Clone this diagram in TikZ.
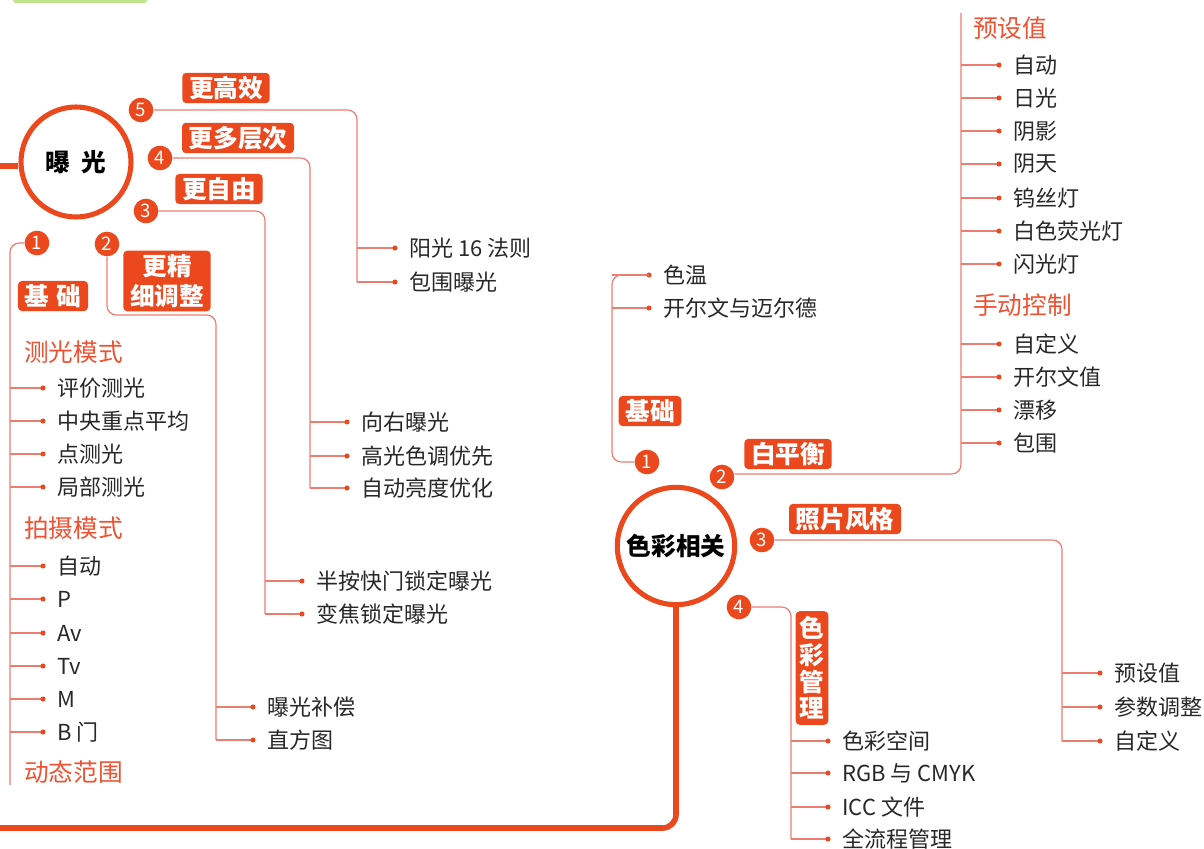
\documentclass[tikz,border=0pt]{standalone}
\usepackage{fontspec}
\setmainfont{Noto Sans CJK SC}
\definecolor{mainred}{RGB}{236,72,30}
\definecolor{connc}{RGB}{236,125,115}
\definecolor{itemc}{RGB}{40,40,40}
\definecolor{subc}{RGB}{238,82,50}
\definecolor{topgreen}{RGB}{190,228,140}
\tikzset{
  hub/.style={circle, draw=mainred, line width=3.8pt, fill=white, inner sep=0pt, text=black,
    font=\fontsize{18.5}{20}\selectfont\bfseries},
  badge/.style={circle, fill=mainred, minimum size=18.5pt, inner sep=0pt, text=white,
    font=\fontsize{14}{14}\selectfont},
  tag/.style={rounded corners=3pt, fill=mainred, text=white, align=center,
    font=\fontsize{18.5}{23}\selectfont\bfseries, inner xsep=5pt, inner ysep=2.5pt},
  leaftext/.style={anchor=west, inner sep=0pt, text=itemc, font=\fontsize{16.5}{18}\selectfont},
  subhead/.style={anchor=west, inner sep=0pt, text=subc, font=\fontsize{18.5}{20}\selectfont},
  conn/.style={draw=connc, line width=0.9pt, rounded corners=7pt},
  trunkline/.style={draw=mainred, line width=4.2pt, rounded corners=10pt}
}
% name, trunk x, dot x, y, text
\newcommand\leafitem[5]{%
  \coordinate (#1t) at (#2,#4);
  \coordinate (#1d) at (#3,#4);
  \node[leaftext] (#1) at (#3+14,#4) {#5};
  \draw[conn] (#1t) -- (#1d);
  \fill[mainred] (#1d) circle (1.9pt);}
\begin{document}
\begin{tikzpicture}[x=0.75pt,y=-0.75pt]
\fill[white] (0,0) rectangle (1204,849);
\useasboundingbox (0,0) rectangle (1204,849);
\fill[topgreen, rounded corners=2pt] (13,-4) rectangle (147,3);

% ---------- hubs ----------
\node[hub, minimum size=82.5pt] (ex) at (76,162) {曝\hspace{0.45em}光};
\node[hub, minimum size=88pt] (col) at (676,546) {色彩相关};
\coordinate (inL) at (-5,166);
\draw[trunkline] (inL) -- (inL -| ex.west);
\coordinate (bL) at (-5,828);
\coordinate (bR) at (676,828);
\draw[trunkline] (bL) -- (bR) -- (col.south);

% ---------- exposure badges & tags ----------
\node[badge] (e5) at (141,110) {5};
\node[badge] (e4) at (160,158) {4};
\node[badge] (e3) at (146,211) {3};
\node[badge] (e1) at (37,243) {1};
\node[badge] (e2) at (107,244) {2};
\node[tag] (g5) at (226,88) {更高效};
\node[tag] (g4) at (238,138) {更多层次};
\node[tag] (g3) at (219,189) {更自由};
\node[tag] (g1) at (53,296) {基\hspace{0.3em}础};
\node[tag] (g2) at (167,281) {更精\\细调整};

% branch 5
\leafitem{p51}{357}{395}{248}{阳光 16 法则}
\leafitem{p52}{357}{395}{282}{包围曝光}
\draw[conn] (e5.east) -- (e5.east -| p52t) -- (p52t);
% branch 4
\leafitem{p41}{310}{347}{422}{向右曝光}
\leafitem{p42}{310}{347}{456}{高光色调优先}
\leafitem{p43}{310}{347}{488}{自动亮度优化}
\draw[conn] (e4.east) -- (e4.east -| p43t) -- (p43t);
% branch 3
\leafitem{p31}{265}{302}{581}{半按快门锁定曝光}
\leafitem{p32}{265}{302}{614}{变焦锁定曝光}
\draw[conn] (e3.east) -- (e3.east -| p32t) -- (p32t);
% branch 2
\leafitem{p21}{216}{253}{707}{曝光补偿}
\leafitem{p22}{216}{253}{740}{直方图}
\coordinate (e2k) at (107,315);
\draw[conn] (e2.south) -- (e2k) -- (e2k -| p22t) -- (p22t);
% branch 1
\node[subhead] (s11) at (24,352) {测光模式};
\leafitem{p11}{10}{43}{388}{评价测光}
\leafitem{p12}{10}{43}{421}{中央重点平均}
\leafitem{p13}{10}{43}{454}{点测光}
\leafitem{p14}{10}{43}{487}{局部测光}
\node[subhead] (s12) at (24,528) {拍摄模式};
\leafitem{p15}{10}{43}{566}{自动}
\leafitem{p16}{10}{43}{599}{P}
\leafitem{p17}{10}{43}{633}{Av}
\leafitem{p18}{10}{43}{666}{Tv}
\leafitem{p19}{10}{43}{699}{M}
\leafitem{p1a}{10}{43}{732}{B 门}
\node[subhead] (s13) at (24,772) {动态范围};
\coordinate (e1end) at (10,785);
\draw[conn] (e1.west) -- (e1.west -| e1end) -- (e1end);

% ---------- colour badges & tags ----------
\node[badge] (c1) at (647,462) {1};
\node[badge] (c2) at (722,477) {2};
\node[badge] (c3) at (762,540) {3};
\node[badge] (c4) at (739,607) {4};
\node[tag] (h1) at (650,411) {基础};
\node[tag] (h2) at (788,454) {白平衡};
\node[tag] (h3) at (845,519) {照片风格};
\node[tag, font=\fontsize{18.5}{20}\selectfont\bfseries, inner xsep=3pt, inner ysep=4pt] (h4) at (812,668) {色\\彩\\管\\理};

% colour branch 1
\leafitem{k11}{612}{649}{275}{色温}
\leafitem{k12}{612}{649}{308}{开尔文与迈尔德}
\draw[conn] (c1.west) -- (c1.west -| k11t) -- (k11t) -- (k11d);
% colour branch 2
\node[subhead] (s21) at (973,28) {预设值};
\leafitem{k21}{961}{999}{65}{自动}
\leafitem{k22}{961}{999}{98}{日光}
\leafitem{k23}{961}{999}{131}{阴影}
\leafitem{k24}{961}{999}{164}{阴天}
\leafitem{k25}{961}{999}{198}{钨丝灯}
\leafitem{k26}{961}{999}{231}{白色荧光灯}
\leafitem{k27}{961}{999}{264}{闪光灯}
\node[subhead] (s22) at (973,305) {手动控制};
\leafitem{k28}{961}{999}{344}{自定义}
\leafitem{k29}{961}{999}{377}{开尔文值}
\leafitem{k2a}{961}{999}{410}{漂移}
\leafitem{k2b}{961}{999}{443}{包围}
\coordinate (k2top) at (961,13);
\coordinate (c2k) at (961,474);
\draw[conn] (c2.east |- c2k) -- (c2k) -- (k2top);
% colour branch 3
\leafitem{k31}{1062}{1100}{673}{预设值}
\leafitem{k32}{1062}{1100}{707}{参数调整}
\leafitem{k33}{1062}{1100}{741}{自定义}
\draw[conn] (c3.east) -- (c3.east -| k33t) -- (k33t);
% colour branch 4
\leafitem{k41}{791}{828}{741}{色彩空间}
\leafitem{k42}{791}{828}{773}{RGB 与 CMYK}
\leafitem{k43}{791}{828}{807}{ICC 文件}
\leafitem{k44}{791}{828}{839}{全流程管理}
\draw[conn] (c4.east) -- (c4.east -| k44t) -- (k44t);
\end{tikzpicture}
\end{document}
